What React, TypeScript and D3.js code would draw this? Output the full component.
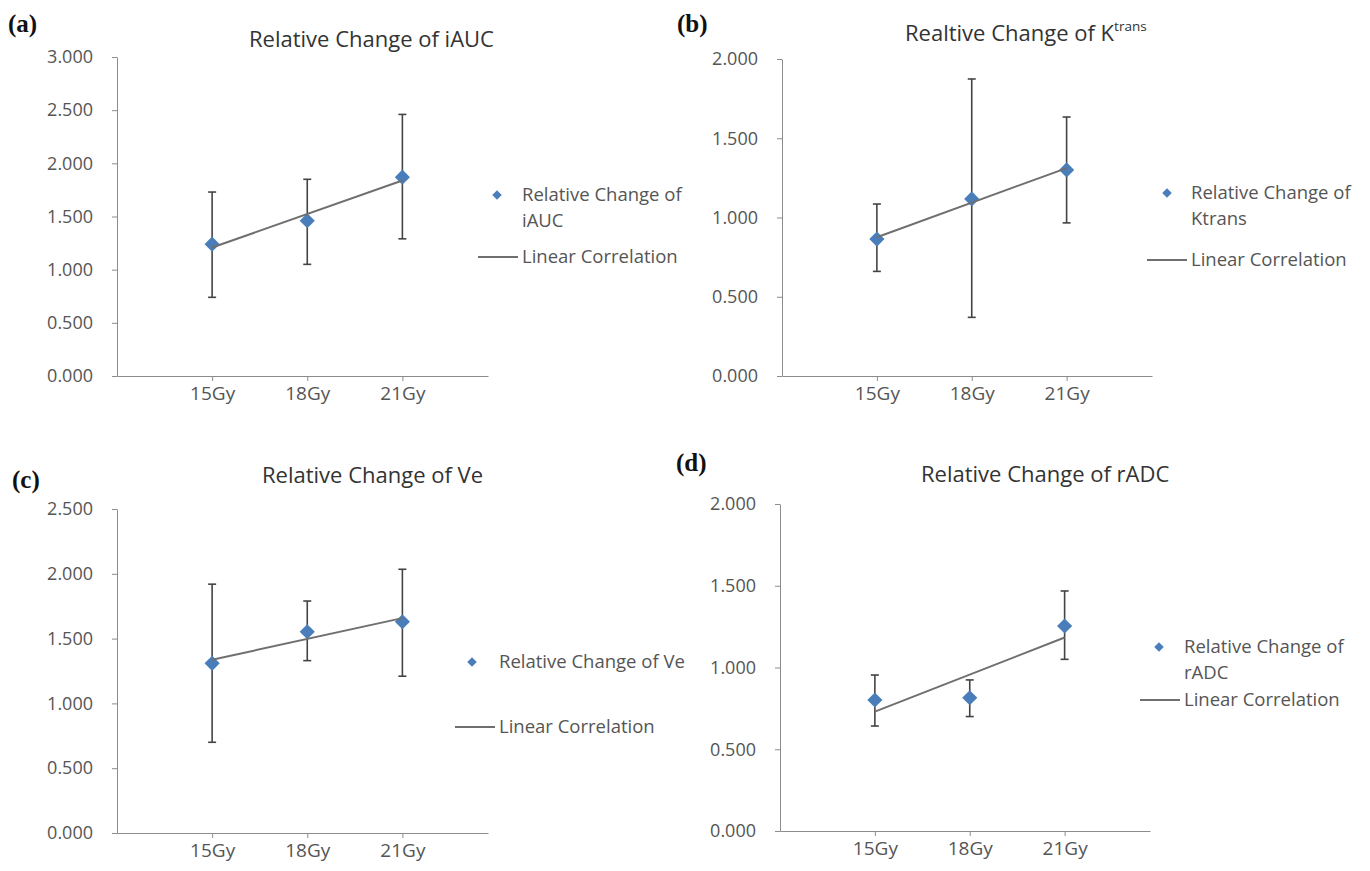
import React, { useEffect, useRef } from "react";
import * as d3 from "d3";

// categories
const doses = ["15Gy", "18Gy", "21Gy"];

// (a) iAUC
const iaucMean = [1.24, 1.46, 1.87];
const iaucHigh = [1.73, 1.85, 2.46];
const iaucLow = [0.74, 1.05, 1.29];
const iaucTicks = [0, 0.5, 1, 1.5, 2, 2.5, 3];

// (b) Ktrans
const ktransMean = [0.864, 1.117, 1.3];
const ktransHigh = [1.085, 1.874, 1.634];
const ktransLow = [0.66, 0.37, 0.966];
const ktransTicks = [0, 0.5, 1, 1.5, 2];

// (c) Ve
const veMean = [1.309, 1.553, 1.63];
const veHigh = [1.92, 1.79, 2.035];
const veLow = [0.7, 1.33, 1.21];
const veTicks = [0, 0.5, 1, 1.5, 2, 2.5];

// (d) rADC
const radcMean = [0.801, 0.815, 1.254];
const radcHigh = [0.954, 0.924, 1.468];
const radcLow = [0.642, 0.7, 1.05];
const radcTicks = [0, 0.5, 1, 1.5, 2];

const FONT = "'Open Sans', 'Noto Sans', sans-serif";
const BLUE = "#4a7ebb";

type PanelCfg = {
  tag: string;
  tagX: number;
  tagY: number;
  title: string;
  titleSup?: string;
  titleX: number;
  titleY: number;
  mean: number[];
  high: number[];
  low: number[];
  ticks: number[];
  left: number;
  right: number;
  top: number;
  bottom: number;
  legendText: string[];
  legendX: number;
  markerX: number;
  markerY: number;
  lineY: number;
};

const panels: PanelCfg[] = [
  {
    tag: "(a)", tagX: 8, tagY: 32,
    title: "Relative Change of iAUC", titleX: 249, titleY: 47,
    mean: iaucMean, high: iaucHigh, low: iaucLow, ticks: iaucTicks,
    left: 117, right: 488, top: 57, bottom: 376,
    legendText: ["Relative Change of", "iAUC"], legendX: 522, markerX: 497, markerY: 195, lineY: 257,
  },
  {
    tag: "(b)", tagX: 677, tagY: 32,
    title: "Realtive Change of K", titleSup: "trans", titleX: 905, titleY: 41,
    mean: ktransMean, high: ktransHigh, low: ktransLow, ticks: ktransTicks,
    left: 782, right: 1152, top: 59, bottom: 376,
    legendText: ["Relative Change of", "Ktrans"], legendX: 1191, markerX: 1167, markerY: 193, lineY: 260,
  },
  {
    tag: "(c)", tagX: 12, tagY: 488,
    title: "Relative Change of Ve", titleX: 262, titleY: 483,
    mean: veMean, high: veHigh, low: veLow, ticks: veTicks,
    left: 117, right: 488, top: 509, bottom: 833,
    legendText: ["Relative Change of Ve"], legendX: 499, markerX: 472, markerY: 662, lineY: 727,
  },
  {
    tag: "(d)", tagX: 676, tagY: 471,
    title: "Relative Change of rADC", titleX: 921, titleY: 482,
    mean: radcMean, high: radcHigh, low: radcLow, ticks: radcTicks,
    left: 780, right: 1150, top: 504, bottom: 831,
    legendText: ["Relative Change of", "rADC"], legendX: 1184, markerX: 1159, markerY: 647, lineY: 700,
  },
];

function drawPanel(svg: d3.Selection<SVGSVGElement, unknown, null, undefined>, p: PanelCfg) {
  const g = svg.append("g");
  const maxY = p.ticks[p.ticks.length - 1];
  const xScale = d3.scaleLinear().domain([0, 3.9]).range([p.left, p.right]);
  const yScale = d3.scaleLinear().domain([0, maxY]).range([p.bottom, p.top]);
  const xs = doses.map((_, i) => i + 1);

  // panel tag
  g.append("text")
    .attr("x", p.tagX).attr("y", p.tagY)
    .attr("font-family", "'Liberation Serif', 'Times New Roman', serif")
    .attr("font-weight", "bold").attr("font-size", 25)
    .attr("fill", "#111")
    .text(p.tag);

  // title
  const t = g.append("text")
    .attr("x", p.titleX).attr("y", p.titleY)
    .attr("font-family", FONT).attr("font-size", 22)
    .attr("fill", "#333")
    .text(p.title);
  if (p.titleSup) {
    t.append("tspan").attr("dy", -10).attr("font-size", 13.5).text(p.titleSup);
  }

  // y axis
  const yAxis = d3.axisLeft(yScale)
    .tickValues(p.ticks)
    .tickFormat(d3.format(".3f") as any)
    .tickSize(5).tickSizeOuter(0).tickPadding(19);
  const ya = g.append("g").attr("transform", `translate(${p.left},0)`).call(yAxis);
  ya.selectAll("path, line").attr("stroke", "#8c8c8c");
  ya.selectAll("text").attr("font-family", FONT).attr("font-size", 18).attr("fill", "#555");

  // x axis
  const xAxis = d3.axisBottom(xScale)
    .tickValues(xs)
    .tickFormat((d: any) => doses[d - 1])
    .tickSize(5).tickSizeOuter(0).tickPadding(6);
  const xa = g.append("g").attr("transform", `translate(0,${p.bottom})`).call(xAxis);
  xa.selectAll("path, line").attr("stroke", "#8c8c8c");
  xa.selectAll("text").attr("font-family", FONT).attr("font-size", 19).attr("fill", "#555");

  // error bars
  const eb = g.append("g").attr("stroke", "#444").attr("stroke-width", 1.6);
  xs.forEach((x, i) => {
    const cx = xScale(x);
    eb.append("line").attr("x1", cx).attr("x2", cx).attr("y1", yScale(p.low[i])).attr("y2", yScale(p.high[i]));
    eb.append("line").attr("x1", cx - 4).attr("x2", cx + 4).attr("y1", yScale(p.low[i])).attr("y2", yScale(p.low[i]));
    eb.append("line").attr("x1", cx - 4).attr("x2", cx + 4).attr("y1", yScale(p.high[i])).attr("y2", yScale(p.high[i]));
  });

  // markers
  const diamond = d3.symbol().type(d3.symbolSquare).size(115);
  g.append("g").selectAll("path").data(p.mean).join("path")
    .attr("d", diamond() as string)
    .attr("transform", (d, i) => `translate(${xScale(xs[i])},${yScale(d)}) rotate(45)`)
    .attr("fill", BLUE);

  // least squares trend line
  const mx = d3.mean(xs) as number;
  const my = d3.mean(p.mean) as number;
  const slope = d3.sum(xs, (x, i) => (x - mx) * (p.mean[i] - my)) / d3.sum(xs, (x) => (x - mx) * (x - mx));
  const trend = [xs[0], xs[xs.length - 1]].map((x) => ({ x, y: my + slope * (x - mx) }));
  const line = d3.line<{ x: number; y: number }>().x((d) => xScale(d.x)).y((d) => yScale(d.y));
  g.append("path").datum(trend).attr("d", line).attr("stroke", "#6f6f6f").attr("stroke-width", 2).attr("fill", "none");

  // legend
  const lg = g.append("g").attr("font-family", FONT).attr("font-size", 18.5).attr("fill", "#555");
  lg.append("path")
    .attr("d", d3.symbol().type(d3.symbolSquare).size(45)() as string)
    .attr("transform", `translate(${p.markerX},${p.markerY}) rotate(45)`)
    .attr("fill", BLUE);
  p.legendText.forEach((s, i) => {
    lg.append("text").attr("x", p.legendX).attr("y", p.markerY + i * 26).attr("dy", "0.35em").text(s);
  });
  lg.append("line")
    .attr("x1", p.legendX - 44).attr("x2", p.legendX - 4)
    .attr("y1", p.lineY).attr("y2", p.lineY)
    .attr("stroke", "#6f6f6f").attr("stroke-width", 2);
  lg.append("text").attr("x", p.legendX).attr("y", p.lineY).attr("dy", "0.35em").text("Linear Correlation");
}

export default function App() {
  const ref = useRef<SVGSVGElement>(null);

  useEffect(() => {
    if (!ref.current) return;
    const svg = d3.select(ref.current);
    svg.selectAll("*").remove();
    panels.forEach((p) => drawPanel(svg, p));
  }, []);

  return (
    <svg
      ref={ref}
      width={1370}
      height={871}
      style={{ position: "absolute", left: 0, top: 0, background: "#fff" }}
    />
  );
}
